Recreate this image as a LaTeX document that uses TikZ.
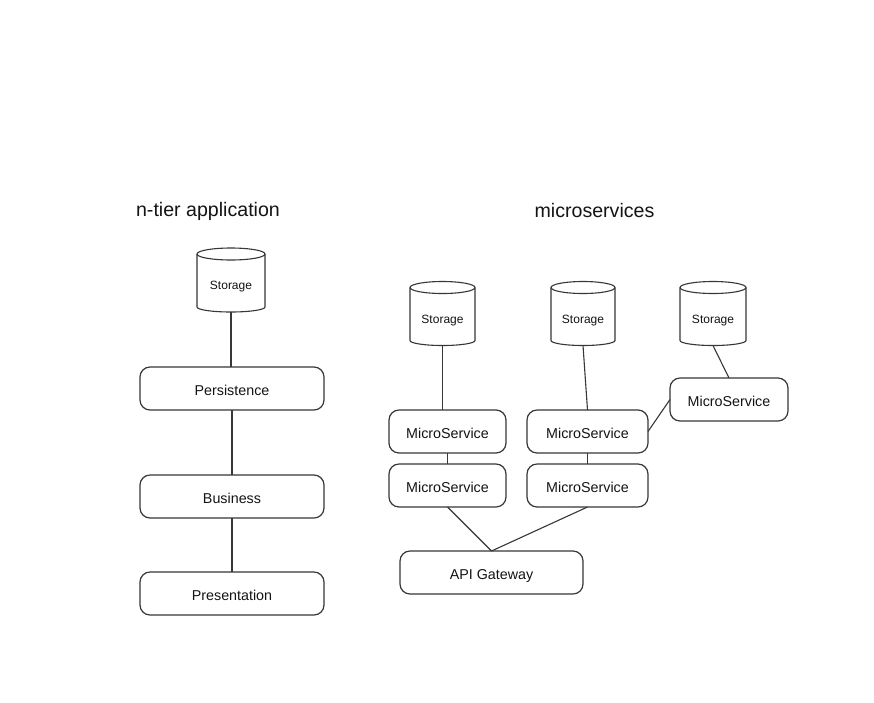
\documentclass[tikz,border=0pt]{standalone}
\usepackage{fontspec}
\setmainfont{Liberation Sans}
\definecolor{linegray}{RGB}{55,55,55}
\definecolor{textgray}{RGB}{20,20,20}
% outline of a storage cylinder around a named rectangle node: #1 name, #2 half width
\newcommand\drawstore[2]{%
  \draw[edge] ([yshift=-6pt]#1.north west) -- ([yshift=5pt]#1.south west)
    arc[start angle=180, end angle=360, x radius=#2, y radius=5pt]
    -- ([yshift=-6pt]#1.north east);
  \draw[edge] ([yshift=-6pt]#1.north) ellipse[x radius=#2, y radius=6pt];
}
% label set a little below the middle of a cylinder
\newcommand\storelabel{\raisebox{-9.5pt}[0pt][0pt]{Storage}}
\begin{document}
\begin{tikzpicture}[x=1pt,y=1pt,
  edge/.style={draw=linegray, line width=1.1pt},
  box/.style={draw=linegray, line width=1.2pt, rounded corners=10pt,
    minimum height=43pt, inner sep=0pt, outer sep=0pt, text=textgray,
    text height=13pt, text depth=0pt,
    font=\fontsize{14.3}{16}\selectfont},
  store/.style={minimum height=64pt, inner sep=0pt, outer sep=0pt, text=textgray,
    font=\fontsize{12}{14}\selectfont},
  title/.style={inner sep=0pt, text=textgray, font=\fontsize{19.6}{22}\selectfont}]
\fill[white] (0,0) rectangle (874,-702);
\useasboundingbox (0,0) rectangle (874,-702);

% titles
\node[title] (t1) at (208,-211.5) {n-tier application};
\node[title] (t2) at (594.5,-210.5) {microservices};

% n-tier stack
\node[store, minimum width=68pt] (s0) at (231,-280) {\storelabel};
\drawstore{s0}{34pt}
\node[box, minimum width=184pt] (per) at (232,-388.5) {Persistence};
\node[box, minimum width=184pt] (bus) at (232,-496.5) {Business};
\node[box, minimum width=184pt] (pre) at (232,-593.5) {Presentation};

\draw[edge] (s0.south) -- (s0.south |- per.north);
\draw[edge] (per.south) -- (bus.north);
\draw[edge] (bus.south) -- (pre.north);

% microservices
\node[store, minimum width=65pt] (s1) at (442.5,-313.5) {\storelabel};
\drawstore{s1}{32.5pt}
\node[store, minimum width=64pt] (s2) at (583,-313.5) {\storelabel};
\drawstore{s2}{32pt}
\node[store, minimum width=66pt] (s3) at (713,-313.5) {\storelabel};
\drawstore{s3}{33pt}

\node[box, minimum width=117pt] (a1) at (447.5,-431.5) {MicroService};
\node[box, minimum width=121pt] (b1) at (587.5,-431.5) {MicroService};
\node[box, minimum width=117pt] (a2) at (447.5,-485.5) {MicroService};
\node[box, minimum width=121pt] (b2) at (587.5,-485.5) {MicroService};
\node[box, minimum width=118pt] (c1) at (729,-399.5) {MicroService};
\node[box, minimum width=183pt] (gw) at (491.5,-572.5) {API Gateway};

\draw[edge] (s1.south) -- (s1.south |- a1.north);
\draw[edge] (s2.south) -- (b1.north);
\draw[edge] (s3.south) -- (c1.north);
\draw[edge] (a1.south) -- (a2.north);
\draw[edge] (b1.south) -- (b2.north);
\draw[edge] (b1.east) -- (c1.west);
\draw[edge] (a2.south) -- (gw.north);
\draw[edge] (b2.south) -- (gw.north);
\end{tikzpicture}
\end{document}
